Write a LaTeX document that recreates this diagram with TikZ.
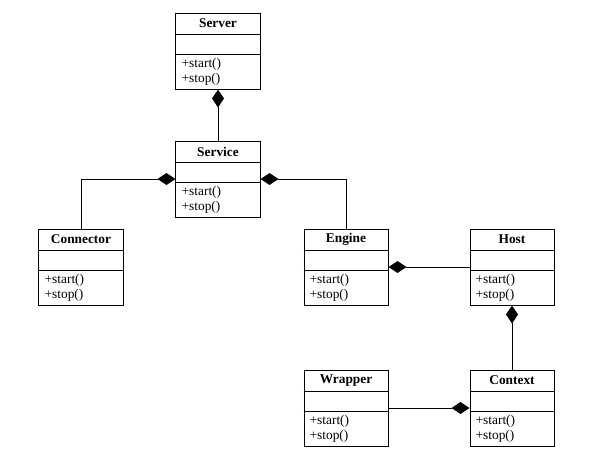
\documentclass[tikz,border=0pt]{standalone}
\usepackage{fontspec}
\setmainfont{Liberation Serif}
\usetikzlibrary{calc,arrows.meta}

% one class: name, position, title
\newcommand{\umlclass}[3]{%
  \node[classbox] (#1) at #2 {};
  \draw ($(#1.north west)+(0,22)$) -- ($(#1.north east)+(0,22)$);
  \draw ($(#1.north west)+(0,42)$) -- ($(#1.north east)+(0,42)$);
  \node[classname] (#1-name) at ($(#1.north)+(0,11)$) {#3};
  \node[classop] (#1-start) at ($(#1.north west)+(1,52)$) {+start()};
  \node[classop] (#1-stop) at ($(#1.north west)+(1,67)$) {+stop()};
}

\begin{document}
\begin{tikzpicture}[x=0.025cm, y=-0.025cm, line width=0.7pt,
    classbox/.style={draw, minimum width=2.1cm, minimum height=1.9cm, inner sep=0pt},
    classname/.style={font=\fontsize{9.5}{11}\selectfont\bfseries},
    classop/.style={anchor=west, font=\fontsize{9.5}{11}\selectfont},
    owns/.style={-{Diamond[length=12.8pt,width=8.5pt]}}]

    \useasboundingbox (0,0) rectangle (597,456);

    \umlclass{server}{(218,51)}{Server}
    \umlclass{service}{(218,179)}{Service}
    \umlclass{connector}{(81,267)}{Connector}
    \umlclass{engine}{(346,267)}{Engine}
    \umlclass{host}{(512,267)}{Host}
    \umlclass{context}{(512,408)}{Context}
    \umlclass{wrapper}{(346,408)}{Wrapper}

    \draw[owns] (service.north) -- (server.south);
    \draw[owns] (connector.north) |- (service.west);
    \draw[owns] (engine.north) |- (service.east);
    \draw[owns] (host.west) -- (engine.east);
    \draw[owns] (context.north) -- (host.south);
    \draw[owns] (wrapper.east) -- (context.west);

\end{tikzpicture}
\end{document}
